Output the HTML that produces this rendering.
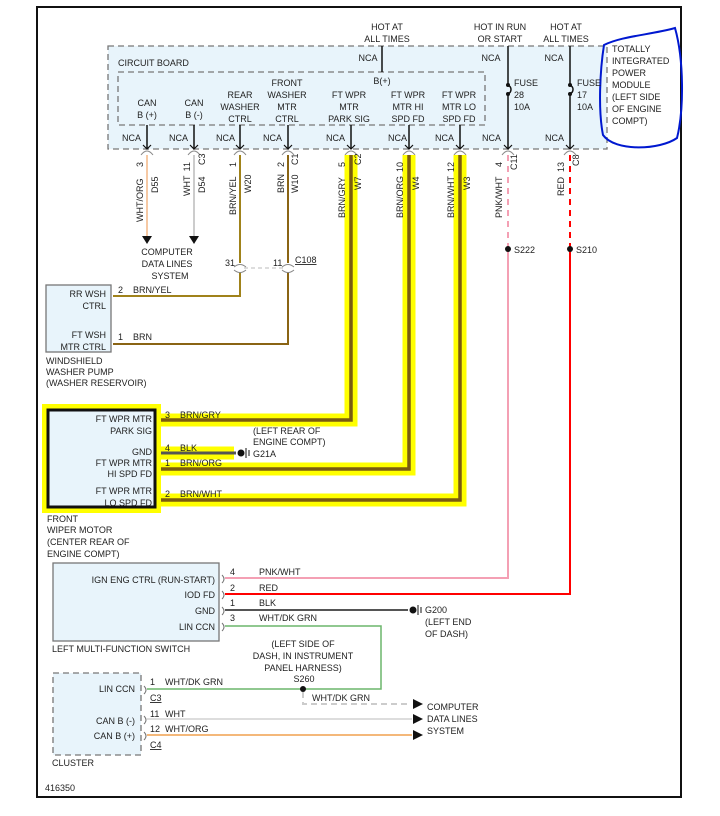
<!DOCTYPE html>
<html><head><meta charset="utf-8"><style>
html,body{margin:0;padding:0;background:#fff}
svg{display:block}
text{font-family:"Liberation Sans",sans-serif;font-size:9px;fill:#222}
</style></head><body>
<svg width="720" height="816" viewBox="0 0 720 816" xmlns="http://www.w3.org/2000/svg">
<rect x="37" y="7" width="644" height="790" fill="#fff" stroke="#111" stroke-width="2"/>
<!-- TIPM -->
<rect x="108" y="46" width="499" height="103" fill="#e8f4fb" stroke="#777" stroke-width="1.3" stroke-dasharray="6,4"/>
<rect x="118" y="72" width="367" height="53" fill="none" stroke="#777" stroke-width="1.3" stroke-dasharray="6,4"/>
<text x="118" y="66">CIRCUIT BOARD</text>
<text x="612" y="52">TOTALLY</text><text x="612" y="64">INTEGRATED</text><text x="612" y="76">POWER</text><text x="612" y="88">MODULE</text><text x="612" y="100">(LEFT SIDE</text><text x="612" y="112">OF ENGINE</text><text x="612" y="124">COMPT)</text>
<path d="M604 45 C600 70,598 110,603 135 C615 152,660 150,677 138 C684 110,684 60,675 28 C650 35,622 36,604 45Z" fill="none" stroke="#0018d0" stroke-width="2"/>
<g text-anchor="middle">
<text x="387" y="30">HOT AT</text><text x="387" y="42">ALL TIMES</text>
<text x="500" y="30">HOT IN RUN</text><text x="500" y="42">OR START</text>
<text x="566" y="30">HOT AT</text><text x="566" y="42">ALL TIMES</text>
<text x="368" y="61">NCA</text><text x="382" y="84">B(+)</text>
<text x="147" y="106">CAN</text><text x="147" y="118">B (+)</text>
<text x="194" y="106">CAN</text><text x="194" y="118">B (-)</text>
<text x="240" y="98">REAR</text><text x="240" y="110">WASHER</text><text x="240" y="122">CTRL</text>
<text x="287" y="86">FRONT</text><text x="287" y="98">WASHER</text><text x="287" y="110">MTR</text><text x="287" y="122">CTRL</text>
<text x="349" y="98">FT WPR</text><text x="349" y="110">MTR</text><text x="349" y="122">PARK SIG</text>
<text x="408" y="98">FT WPR</text><text x="408" y="110">MTR HI</text><text x="408" y="122">SPD FD</text>
<text x="459" y="98">FT WPR</text><text x="459" y="110">MTR LO</text><text x="459" y="122">SPD FD</text>
<text x="491" y="61">NCA</text><text x="554" y="61">NCA</text>
</g>
<g>
<text x="122" y="141">NCA</text><text x="169" y="141">NCA</text><text x="216" y="141">NCA</text><text x="263" y="141">NCA</text>
<text x="326" y="141">NCA</text><text x="388" y="141">NCA</text><text x="435" y="141">NCA</text><text x="482" y="141">NCA</text><text x="545" y="141">NCA</text>
<text x="514" y="86">FUSE</text><text x="514" y="98">28</text><text x="514" y="110">10A</text>
<text x="577" y="86">FUSE</text><text x="577" y="98">17</text><text x="577" y="110">10A</text>
</g>
<g stroke="#111" stroke-width="1.5" fill="none">
<path d="M382 46V72"/>
<path d="M147 125V149M194 125V149M240 125V149M288 125V149M351 125V149M409 125V149M460 125V149"/>
<path d="M508 46V85M508 94V149M570 46V85M570 94V149"/>
<path d="M508 85c4 2,4 7,0 9M570 85c4 2,4 7,0 9"/>
</g>
<g fill="#111"><circle cx="508" cy="85" r="2"/><circle cx="508" cy="94" r="2"/><circle cx="570" cy="85" r="2"/><circle cx="570" cy="94" r="2"/></g>
<g stroke="#111" stroke-width="1.2" fill="none">
<path d="M143 145l4 4 4-4M190 145l4 4 4-4M236 145l4 4 4-4M284 145l4 4 4-4M347 145l4 4 4-4M405 145l4 4 4-4M456 145l4 4 4-4M504 145l4 4 4-4M566 145l4 4 4-4"/>
</g>
<g stroke="#888" stroke-width="1" fill="none">
<path d="M141 155q3-4 6-4q3 0 6 4M188 155q3-4 6-4q3 0 6 4M234 155q3-4 6-4q3 0 6 4M282 155q3-4 6-4q3 0 6 4M345 155q3-4 6-4q3 0 6 4M403 155q3-4 6-4q3 0 6 4M454 155q3-4 6-4q3 0 6 4M502 155q3-4 6-4q3 0 6 4M564 155q3-4 6-4q3 0 6 4"/>
</g>
<!-- top wires -->
<path d="M147 155V236" stroke="#f6c9a4" stroke-width="2"/>
<path d="M194 155V236" stroke="#ccc" stroke-width="2"/>
<path d="M142 236h10l-5 8zM189 236h10l-5 8z" fill="#111"/>
<g text-anchor="middle"><text x="167" y="255">COMPUTER</text><text x="167" y="267">DATA LINES</text><text x="170" y="279">SYSTEM</text></g>
<path d="M240 155V263M240 272V296H113" stroke="#a0821a" stroke-width="2" fill="none"/>
<path d="M288 155V263M288 272V344H113" stroke="#8a6414" stroke-width="2" fill="none"/>
<path d="M244 268H284" stroke="#bbb" stroke-dasharray="4,3"/>
<g stroke="#888" fill="none"><path d="M234 267q6-5 12 0M282 267q6-5 12 0"/><path d="M234 270q6 5 12 0M282 270q6 5 12 0" /></g>
<text x="225" y="266">31</text><text x="273" y="266">11</text><text x="295" y="263" text-decoration="underline">C108</text>
<!-- yellow wires -->
<g fill="none" stroke="#ffff00" stroke-width="13">
<path d="M351 155V420H158M409 155V469H158M460 155V500H158M158 453H234"/>
</g>
<g fill="none" stroke="#7a5c10" stroke-width="3.5">
<path d="M351 155V420H160M409 155V469H160M460 155V500H160"/>
</g>
<path d="M160 453H236" stroke="#555" stroke-width="3"/>
<circle cx="241" cy="453" r="3.5" fill="#111"/><path d="M246 448v10M249 450v6" stroke="#111"/>
<text x="253" y="434">(LEFT REAR OF</text><text x="253" y="445">ENGINE COMPT)</text><text x="253" y="457">G21A</text>
<!-- pink/red -->
<path d="M508 155V249" stroke="#f4a0b4" stroke-width="2" stroke-dasharray="6,5"/>
<path d="M508 249V578H225" stroke="#f4a0b4" stroke-width="2" fill="none"/>
<path d="M570 155V249" stroke="#f00" stroke-width="2" stroke-dasharray="6,5"/>
<path d="M570 249V594H225" stroke="#f00" stroke-width="2" fill="none"/>
<circle cx="508" cy="249" r="3" fill="#111"/><circle cx="570" cy="249" r="3" fill="#111"/>
<text x="514" y="253">S222</text><text x="576" y="253">S210</text>
<!-- vertical labels -->
<g font-size="9">
<text transform="translate(143,162) rotate(-90)" text-anchor="end">3</text>
<text transform="translate(143,222) rotate(-90)">WHT/ORG</text>
<text transform="translate(158,193) rotate(-90)">D55</text>
<text transform="translate(190,162) rotate(-90)" text-anchor="end">11</text>
<text transform="translate(190,196) rotate(-90)">WHT</text>
<text transform="translate(205,193) rotate(-90)">D54</text>
<text transform="translate(205,165) rotate(-90)">C3</text>
<text transform="translate(236,162) rotate(-90)" text-anchor="end">1</text>
<text transform="translate(236,215) rotate(-90)">BRN/YEL</text>
<text transform="translate(251,193) rotate(-90)">W20</text>
<text transform="translate(284,162) rotate(-90)" text-anchor="end">2</text>
<text transform="translate(284,193) rotate(-90)">BRN</text>
<text transform="translate(298,193) rotate(-90)">W10</text>
<text transform="translate(298,165) rotate(-90)">C1</text>
<text transform="translate(345,162) rotate(-90)" text-anchor="end">5</text>
<text transform="translate(345,218) rotate(-90)">BRN/GRY</text>
<text transform="translate(361,190) rotate(-90)">W7</text>
<text transform="translate(361,165) rotate(-90)">C2</text>
<text transform="translate(403,162) rotate(-90)" text-anchor="end">10</text>
<text transform="translate(403,218) rotate(-90)">BRN/ORG</text>
<text transform="translate(419,190) rotate(-90)">W4</text>
<text transform="translate(454,162) rotate(-90)" text-anchor="end">12</text>
<text transform="translate(454,218) rotate(-90)">BRN/WHT</text>
<text transform="translate(470,190) rotate(-90)">W3</text>
<text transform="translate(502,162) rotate(-90)" text-anchor="end">4</text>
<text transform="translate(502,218) rotate(-90)">PNK/WHT</text>
<text transform="translate(517,170) rotate(-90)">C11</text>
<text transform="translate(564,162) rotate(-90)" text-anchor="end">13</text>
<text transform="translate(564,196) rotate(-90)">RED</text>
<text transform="translate(579,166) rotate(-90)">C8</text>
</g>
<!-- washer pump -->
<rect x="46" y="285" width="65" height="67" fill="#e8f4fb" stroke="#777" stroke-width="1.3"/>
<g text-anchor="end"><text x="106" y="297">RR WSH</text><text x="106" y="309">CTRL</text><text x="106" y="338">FT WSH</text><text x="106" y="350">MTR CTRL</text></g>
<text x="118" y="293">2</text><text x="133" y="293">BRN/YEL</text><text x="118" y="340">1</text><text x="133" y="340">BRN</text>
<text x="46" y="364">WINDSHIELD</text><text x="46" y="375">WASHER PUMP</text><text x="46" y="386">(WASHER RESERVOIR)</text>
<!-- wiper motor -->
<rect x="42" y="404" width="119" height="109" fill="#ffff00"/>
<rect x="48" y="410" width="107" height="97" fill="#e8f4fb" stroke="#111" stroke-width="3"/>
<g text-anchor="end"><text x="152" y="422">FT WPR MTR</text><text x="152" y="434">PARK SIG</text><text x="152" y="455">GND</text><text x="152" y="466">FT WPR MTR</text><text x="152" y="477">HI SPD FD</text><text x="152" y="494">FT WPR MTR</text><text x="152" y="506">LO SPD FD</text></g>
<text x="165" y="418">3</text><text x="180" y="418">BRN/GRY</text>
<text x="165" y="451">4</text><text x="180" y="451">BLK</text>
<text x="165" y="466">1</text><text x="180" y="466">BRN/ORG</text>
<text x="165" y="497">2</text><text x="180" y="497">BRN/WHT</text>
<text x="47" y="522">FRONT</text><text x="47" y="533">WIPER MOTOR</text><text x="47" y="545">(CENTER REAR OF</text><text x="47" y="557">ENGINE COMPT)</text>
<!-- LMFS -->
<rect x="53" y="563" width="166" height="78" fill="#e8f4fb" stroke="#777" stroke-width="1.3"/>
<g text-anchor="end"><text x="215" y="583">IGN ENG CTRL (RUN-START)</text><text x="215" y="598">IOD FD</text><text x="215" y="614">GND</text><text x="215" y="630">LIN CCN</text></g>
<text x="52" y="652">LEFT MULTI-FUNCTION SWITCH</text>
<path d="M225 610H408" stroke="#555" stroke-width="2"/>
<circle cx="413" cy="610" r="3.5" fill="#111"/><path d="M418 605v10M421 607v6" stroke="#111"/>
<text x="425" y="613">G200</text><text x="425" y="625">(LEFT END</text><text x="425" y="637">OF DASH)</text>
<path d="M225 626H381V689H147" stroke="#6bb56b" stroke-width="1.5" fill="none"/>
<text x="230" y="575">4</text><text x="259" y="575">PNK/WHT</text>
<text x="230" y="591">2</text><text x="259" y="591">RED</text>
<text x="230" y="606">1</text><text x="259" y="606">BLK</text>
<text x="230" y="621">3</text><text x="259" y="621">WHT/DK GRN</text>
<g text-anchor="middle"><text x="303" y="647">(LEFT SIDE OF</text><text x="303" y="659">DASH, IN INSTRUMENT</text><text x="303" y="671">PANEL HARNESS)</text><text x="304" y="682">S260</text></g>
<circle cx="303" cy="689" r="3" fill="#111"/>
<path d="M303 692V704H410" stroke="#ccc" stroke-width="2" stroke-dasharray="6,4" fill="none"/>
<text x="312" y="701">WHT/DK GRN</text>
<path d="M147 719H412" stroke="#ddd" stroke-width="2"/>
<path d="M147 735H412" stroke="#f4b87a" stroke-width="2"/>
<path d="M413 699l10 5-10 5zM413 714l10 5-10 5zM413 730l10 5-10 5z" fill="#111"/>
<text x="427" y="710">COMPUTER</text><text x="427" y="722">DATA LINES</text><text x="427" y="734">SYSTEM</text>
<g stroke="#777" fill="none"><path d="M222 575q4 4 0 8M222 591q4 4 0 8M222 607q4 4 0 8M222 623q4 4 0 8M144 686q4 4 0 8M144 716q4 4 0 8M144 732q4 4 0 8"/></g>
<!-- cluster -->
<rect x="53" y="673" width="88" height="82" fill="#e8f4fb" stroke="#777" stroke-width="1.3" stroke-dasharray="6,4"/>
<g text-anchor="end"><text x="135" y="692">LIN CCN</text><text x="135" y="724">CAN B (-)</text><text x="135" y="739">CAN B (+)</text></g>
<text x="150" y="685">1</text><text x="165" y="685">WHT/DK GRN</text>
<text x="150" y="701" text-decoration="underline">C3</text>
<text x="150" y="717">11</text><text x="165" y="717">WHT</text>
<text x="150" y="732">12</text><text x="165" y="732">WHT/ORG</text>
<text x="150" y="748" text-decoration="underline">C4</text>
<text x="52" y="766">CLUSTER</text>
<text x="45" y="791">416350</text>
</svg>
</body></html>
